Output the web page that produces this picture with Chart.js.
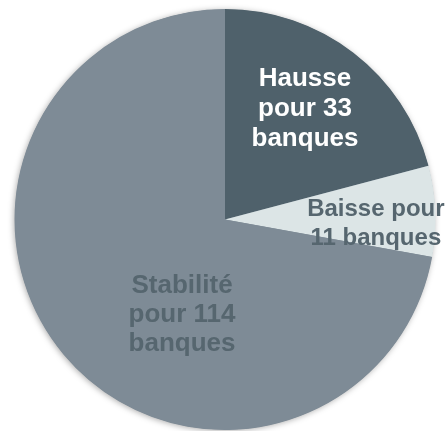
<!DOCTYPE html>
<html>
<head>
  <meta charset="utf-8">
  <title>Répartition des banques</title>
  <script src="https://cdn.jsdelivr.net/npm/chart.js"></script>
  <style>
    html, body { margin: 0; padding: 0; background: #ffffff; }
    #wrap { width: 448px; height: 431px; }
  </style>
</head>
<body>
  <div id="wrap"><canvas id="pieChart" width="448" height="431"></canvas></div>
  <script>
    // Data
    const categories = ["Hausse", "Baisse", "Stabilité"];
    const banques = [33, 11, 114];
    const labelLines = [
      ["Hausse", "pour 33", "banques"],
      ["Baisse pour", "11 banques"],
      ["Stabilité", "pour 114", "banques"]
    ];
    const sliceColors = ["#4f616b", "#dce5e6", "#7e8b96"];
    const textColors = ["#ffffff", "#56666f", "#56666f"];

    // where each label sits inside its slice: fraction of radius, angle shift (deg), font size, line height
    const labelPlace = [
      { frac: 0.648, shift: -1.7, size: 26, lh: 30 },
      { frac: 0.717, shift: 3.9, size: 24, lh: 29.5 },
      { frac: 0.497, shift: -25.9, size: 26, lh: 29 }
    ];

    const shadowPlugin = {
      id: "pieShadow",
      beforeDatasetsDraw(chart) {
        const arc = chart.getDatasetMeta(0).data[0];
        if (!arc) return;
        const ctx = chart.ctx;
        ctx.save();
        ctx.shadowColor = "rgba(0,0,0,0.35)";
        ctx.shadowBlur = 6;
        ctx.shadowOffsetX = -1;
        ctx.shadowOffsetY = 1;
        ctx.fillStyle = "#7e8b96";
        ctx.beginPath();
        ctx.arc(arc.x, arc.y, arc.outerRadius - 0.5, 0, Math.PI * 2);
        ctx.fill();
        ctx.restore();
      }
    };

    const labelPlugin = {
      id: "sliceLabels",
      afterDatasetsDraw(chart) {
        const ctx = chart.ctx;
        const meta = chart.getDatasetMeta(0);
        ctx.save();
        ctx.textAlign = "center";
        ctx.textBaseline = "middle";
        meta.data.forEach((arc, i) => {
          const p = labelPlace[i];
          const mid = (arc.startAngle + arc.endAngle) / 2 + p.shift * Math.PI / 180;
          const r = arc.outerRadius * p.frac;
          const x = arc.x + Math.cos(mid) * r;
          const y = arc.y + Math.sin(mid) * r;
          const lines = labelLines[i];
          ctx.font = "bold " + p.size + "px 'Liberation Sans', Arial, sans-serif";
          ctx.fillStyle = textColors[i];
          lines.forEach((t, k) => {
            ctx.fillText(t, x, y + (k - (lines.length - 1) / 2) * p.lh);
          });
        });
        ctx.restore();
      }
    };

    new Chart(document.getElementById("pieChart").getContext("2d"), {
      type: "pie",
      data: {
        labels: categories,
        datasets: [{
          data: banques,
          backgroundColor: sliceColors,
          borderWidth: 0
        }]
      },
      options: {
        responsive: false,
        animation: false,
        layout: { padding: { top: 9, bottom: 1, left: 2, right: 0 } },
        plugins: {
          legend: { display: false },
          tooltip: { enabled: false }
        }
      },
      plugins: [shadowPlugin, labelPlugin]
    });
  </script>
</body>
</html>
